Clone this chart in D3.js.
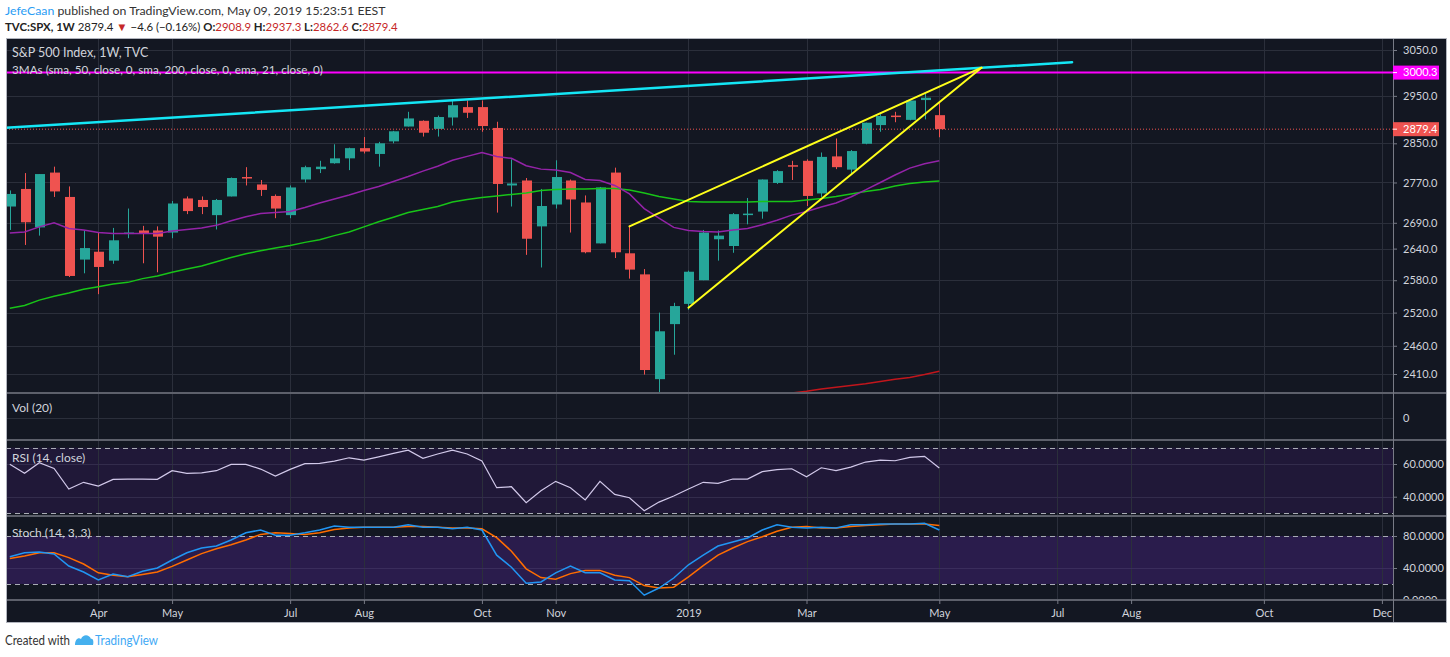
<!DOCTYPE html>
<html>
<head>
<meta charset="utf-8">
<script src="https://cdn.jsdelivr.net/npm/d3@7"></script>
<style>
  body { margin: 0; background: #ffffff; }
  svg { display: block; font-family: Lato, "Liberation Sans", sans-serif; }
</style>
</head>
<body>
<svg id="grafico" width="1450" height="657"></svg>
<script>
// weekly candles, first bar is the week of Feb 19 2018, last one the week of May 6 2019
var opens = [2722,2757,2681,2790,2741,2619,2634,2617,2670,2675,
  2675,2671,2738,2735,2705,2742,2781,2766,2743,2705,
  2776,2797,2809,2819,2840,2828,2854,2885,2897,2880,
  2904,2926,2926,2882,2764,2774,2683,2726,2774,2730,
  2650,2790,2631,2591,2401,2499,2536,2580,2658,2645,
  2707,2712,2769,2805,2814,2748,2823,2796,2849,2888,
  2908,2899,2941,2908.9]
var highs = [2754,2789,2787,2802,2762,2675,2672,2680,2718,2684,
  2683,2733,2742,2742,2737,2780,2801,2775,2746,2764,
  2804,2814,2848,2841,2863,2853,2876,2916,2898,2908,
  2941,2940,2940,2895,2817,2779,2757,2815,2776,2744,
  2761,2800,2685,2601,2520,2538,2598,2676,2675,2709,
  2739,2776,2795,2814,2817,2831,2860,2836,2893,2911,
  2916,2940,2954,2937.3]
var lows = [2676,2647,2665,2741,2586,2593,2554,2611,2660,2612,
  2595,2660,2707,2707,2677,2742,2764,2743,2699,2699,
  2770,2789,2808,2795,2829,2802,2850,2885,2864,2864,
  2887,2903,2874,2710,2722,2628,2604,2718,2671,2631,
  2650,2622,2583,2409,2347,2444,2525,2580,2617,2632,
  2687,2698,2767,2775,2723,2741,2797,2786,2848,2874,
  2894,2898,2900,2862.6]
var closes = [2747,2691,2787,2752,2588,2641,2605,2656,2671,2670,
  2663,2728,2713,2721,2735,2779,2779,2755,2718,2760,
  2801,2802,2819,2840,2833,2850,2875,2902,2872,2905,
  2930,2914,2886,2767,2768,2659,2723,2781,2736,2633,
  2760,2633,2600,2417,2486,2532,2596,2671,2665,2707,
  2708,2776,2793,2804,2743,2822,2801,2834,2893,2907,
  2905,2940,2946,2879.4]

// 3MAs study
var ema21 = [2670,2672,2682,2690,2679,2676,2671,2669,2669,2669,
  2669,2674,2677,2680,2685,2694,2702,2708,2710,2712,
  2720,2729,2737,2745,2754,2762,2772,2782,2793,2803,
  2815,2823,2831,2823,2819,2804,2797,2795,2790,2776,
  2774,2764,2747,2718,2699,2681,2675,2673,2672,2676,
  2679,2686,2695,2705,2712,2721,2729,2741,2755,2770,
  2785,2799,2808,2814]
var sma50 = [2528,2533,2543,2550,2556,2563,2568,2573,2576,2583,
  2588,2595,2601,2607,2615,2623,2630,2636,2641,2646,
  2652,2657,2665,2672,2682,2692,2701,2710,2716,2722,
  2731,2736,2740,2743,2746,2749,2754,2756,2757,2757,
  2758,2758,2755,2749,2742,2737,2732,2731,2731,2731,
  2731,2732,2732,2732,2735,2738,2742,2747,2752,2756,
  2763,2768,2771,2773]
// only the last 14 weeks, before that the sma 200 is under the pane
var sma200 = [2368,2371,2374,2377,2380,2384,2387,2390,2393,2397,2401,2404,2409,2415]

var rsi = [59.8,54.3,60.8,57.3,44.7,48.8,46.5,50.6,50.8,50.8,
  50.6,55.9,54.3,54.6,55.9,59.8,59.8,56.9,52.6,56.7,
  60.2,60.4,61.8,63.8,62.4,64.4,66.5,68.5,63.5,66.1,
  68.5,66.1,61.8,45.5,46.1,36.3,43.6,49.4,45.5,38.0,
  49.4,41.4,39.4,31.4,36.7,40.4,44.7,48.8,48.2,50.8,
  50.8,55.3,56.5,57.1,52.2,57.7,55.9,58.1,61.2,62.4,
  62.0,64.1,64.7,57.5]
var stochK = [54,59,60,57.5,42.5,35,25,32.5,29,36,
  40,50,59,65,67.5,75,84,87.5,81,81,
  84,87.5,92.5,91,91,91,91,94,91,91,
  89,91,87.5,56,41,21,22.5,34,42.5,34,
  34,25,24,6,15,27.5,44,56,67.5,72.5,
  77.5,87.5,94,91,90,91,90,94,94,95,
  95,95,96,87.5]
var stochD = [52,55,59,59,53,45,34,31,29,32,
  35,42,50,58,64,69,75,82,84,83,
  82,84,88,90,91,91,91,92,92,91,
  90,90,89,78,61,39,28,26,33,37,
  37,31,28,18,15,16,29,43,56,65,
  73,79,86,91,92,90,90,92,93,94,
  95,95,95,93]

var priceTicks = [3050, 2950, 2850, 2770, 2690, 2640, 2580, 2520, 2460, 2410]
var rsiTicks = [60, 40]
var stochTicks = [80, 40, 0]
var monthDates = ["2018-04-02","2018-05-07","2018-07-02","2018-08-06","2018-10-01","2018-11-05",
  "2019-01-07","2019-03-04","2019-05-06","2019-07-01","2019-08-05","2019-10-07","2019-12-02"]
var monthLabels = ["Apr","May","Jul","Aug","Oct","Nov","2019","Mar","May","Jul","Aug","Oct","Dec"]

// lines drawn by hand on the chart
var resistanceDates = ["2018-02-12", "2019-07-08"]
var resistancePrices = [2881, 3023]
var wedgeTopDates = ["2018-12-10", "2019-05-26"]
var wedgeTopPrices = [2683, 3011]
var wedgeBottomDates = ["2019-01-07", "2019-05-26"]
var wedgeBottomPrices = [2529, 3011]
var levelPrice = 3000.3

// layout
var left = 6, plotRight = 1393, right = 1447
var mainTop = 38, mainBottom = 393, volBottom = 440, rsiBottom = 516, stochBottom = 600, frameBottom = 623
var up = "#26a69a", down = "#ef5350", gridColor = "#2b2f3b", axisText = "#d1d4dc"

var svg = d3.select("#grafico")
var parse = d3.utcParse("%Y-%m-%d")
var weeks = d3.utcMonday.range(new Date("2018-02-19"), new Date("2019-05-07"))

var x = d3.scaleUtc().domain([weeks[0], weeks[weeks.length - 1]]).range([9.8, 939.3])
var y = d3.scaleLog().domain([2410, 3050]).range([374, 50])
var yRsi = d3.scaleLinear().domain([40, 60]).range([496.7, 464])
var yStoch = d3.scaleLinear().domain([0, 100]).range([600, 520])

// clip paths for the panes
var defs = svg.append("defs")
function clip(id, y0, y1) {
  defs.append("clipPath").attr("id", id)
    .append("rect").attr("x", left).attr("y", y0).attr("width", plotRight - left).attr("height", y1 - y0)
}
clip("clipMain", mainTop, mainBottom)
clip("clipRsi", volBottom, rsiBottom)
clip("clipStoch", rsiBottom, stochBottom)

// background
svg.append("rect").attr("x", left).attr("y", mainTop)
  .attr("width", right - left).attr("height", frameBottom - mainTop).attr("fill", "#131722")

// indicator bands
svg.append("rect").attr("x", left).attr("width", plotRight - left)
  .attr("y", yRsi(70)).attr("height", yRsi(30) - yRsi(70)).attr("fill", "#201838")
svg.append("rect").attr("x", left).attr("width", plotRight - left)
  .attr("y", yStoch(80)).attr("height", yStoch(20) - yStoch(80)).attr("fill", "#2a1c4c")

// grid
var grid = svg.append("g").attr("stroke", gridColor).attr("stroke-width", 1)
grid.selectAll(".vx").data(monthDates).enter().append("line")
  .attr("x1", function(d){ return Math.round(x(parse(d))) + 0.5 })
  .attr("x2", function(d){ return Math.round(x(parse(d))) + 0.5 })
  .attr("y1", mainTop).attr("y2", stochBottom)
grid.selectAll(".hy").data(priceTicks).enter().append("line")
  .attr("x1", left).attr("x2", plotRight)
  .attr("y1", function(d){ return Math.round(y(d)) + 0.5 })
  .attr("y2", function(d){ return Math.round(y(d)) + 0.5 })
grid.append("line").attr("x1", left).attr("x2", plotRight).attr("y1", 418.5).attr("y2", 418.5)
grid.selectAll(".hr").data(rsiTicks).enter().append("line")
  .attr("x1", left).attr("x2", plotRight)
  .attr("y1", function(d){ return Math.round(yRsi(d)) + 0.5 })
  .attr("y2", function(d){ return Math.round(yRsi(d)) + 0.5 })
  .attr("stroke", "#332c4c")
grid.append("line").attr("x1", left).attr("x2", plotRight)
  .attr("y1", Math.round(yStoch(40)) + 0.5).attr("y2", Math.round(yStoch(40)) + 0.5).attr("stroke", "#3a2d5c")

// dashed band limits
var dashes = svg.append("g").attr("stroke", "#a9acb5").attr("stroke-dasharray", "5,4")
;[yRsi(70), yRsi(30), yStoch(80), yStoch(20)].forEach(function(v){
  dashes.append("line").attr("x1", left).attr("x2", plotRight)
    .attr("y1", Math.round(v) + 0.5).attr("y2", Math.round(v) + 0.5)
})

// candles
var bars = weeks.map(function(d, i){ return {date: d, o: opens[i], h: highs[i], l: lows[i], c: closes[i]} })
var main = svg.append("g").attr("clip-path", "url(#clipMain)")
var candle = main.selectAll(".candle").data(bars).enter().append("g")
  .attr("fill", function(d){ return d.c >= d.o ? up : down })
  .attr("stroke", function(d){ return d.c >= d.o ? up : down })
candle.append("line")
  .attr("x1", function(d){ return Math.round(x(d.date)) + 0.5 })
  .attr("x2", function(d){ return Math.round(x(d.date)) + 0.5 })
  .attr("y1", function(d){ return y(d.h) })
  .attr("y2", function(d){ return y(d.l) })
candle.append("rect")
  .attr("stroke", "none")
  .attr("x", function(d){ return Math.round(x(d.date)) - 4 })
  .attr("width", 10)
  .attr("y", function(d){ return y(Math.max(d.o, d.c)) })
  .attr("height", function(d){ return Math.max(1.5, y(Math.min(d.o, d.c)) - y(Math.max(d.o, d.c))) })

// moving averages
var maLine = d3.line().x(function(d){ return x(d[0]) }).y(function(d){ return y(d[1]) })
main.append("path").datum(d3.zip(weeks, sma50)).attr("d", maLine)
  .attr("fill", "none").attr("stroke", "#18c418").attr("stroke-width", 1.5)
main.append("path").datum(d3.zip(weeks.slice(-sma200.length), sma200)).attr("d", maLine)
  .attr("fill", "none").attr("stroke", "#c2161c").attr("stroke-width", 1.5)
main.append("path").datum(d3.zip(weeks, ema21)).attr("d", maLine)
  .attr("fill", "none").attr("stroke", "#9423a8").attr("stroke-width", 1.5)

// last price and the 3000 level
main.append("line").attr("x1", left).attr("x2", plotRight)
  .attr("y1", y(closes[closes.length - 1])).attr("y2", y(closes[closes.length - 1]))
  .attr("stroke", down).attr("stroke-dasharray", "1,2")
main.append("line").attr("x1", left).attr("x2", plotRight)
  .attr("y1", y(levelPrice)).attr("y2", y(levelPrice))
  .attr("stroke", "#ff00ff").attr("stroke-width", 2)

// trend lines
function drawing(dates, prices, color, width) {
  main.append("path").datum(d3.zip(dates.map(parse), prices)).attr("d", maLine)
    .attr("fill", "none").attr("stroke", color).attr("stroke-width", width).attr("stroke-linecap", "round")
}
drawing(resistanceDates, resistancePrices, "#14e6f5", 2.5)
drawing(wedgeTopDates, wedgeTopPrices, "#ffff1a", 2)
drawing(wedgeBottomDates, wedgeBottomPrices, "#ffff1a", 2)

// rsi
var rsiLine = d3.line().x(function(d){ return x(d[0]) }).y(function(d){ return yRsi(d[1]) })
svg.append("g").attr("clip-path", "url(#clipRsi)")
  .append("path").datum(d3.zip(weeks, rsi)).attr("d", rsiLine)
  .attr("fill", "none").attr("stroke", "#d2c9ea").attr("stroke-width", 1.2)

// stochastic
var stochLine = d3.line().x(function(d){ return x(d[0]) }).y(function(d){ return yStoch(d[1]) })
var st = svg.append("g").attr("clip-path", "url(#clipStoch)")
st.append("path").datum(d3.zip(weeks, stochD)).attr("d", stochLine)
  .attr("fill", "none").attr("stroke", "#ff6d00").attr("stroke-width", 1.5)
st.append("path").datum(d3.zip(weeks, stochK)).attr("d", stochLine)
  .attr("fill", "none").attr("stroke", "#2196f3").attr("stroke-width", 1.5)

// pane separators and frame
var sep = svg.append("g").attr("stroke", "#5d606b").attr("stroke-width", 2)
;[mainBottom, volBottom, rsiBottom, stochBottom].forEach(function(v){
  sep.append("line").attr("x1", left).attr("x2", right).attr("y1", v).attr("y2", v)
})
svg.append("line").attr("x1", plotRight + 0.5).attr("x2", plotRight + 0.5)
  .attr("y1", mainTop).attr("y2", frameBottom).attr("stroke", "#787b86")
svg.append("rect").attr("x", left + 0.5).attr("y", mainTop + 0.5)
  .attr("width", right - left - 1).attr("height", frameBottom - mainTop - 1)
  .attr("fill", "none").attr("stroke", "#b2b5be")

// axes
function styleAxis(g) {
  g.attr("font-family", "Lato, 'Liberation Sans', sans-serif").attr("font-size", 11)
  g.select(".domain").remove()
  g.selectAll("line").attr("stroke", "#787b86")
  g.selectAll("text").attr("fill", axisText)
}
svg.append("g").attr("transform", "translate(" + plotRight + ",0)")
  .call(d3.axisRight(y).tickValues(priceTicks).tickFormat(d3.format(".1f")).tickSize(4).tickPadding(6))
  .call(styleAxis)
svg.append("g").attr("transform", "translate(" + plotRight + ",0)")
  .call(d3.axisRight(yRsi).tickValues(rsiTicks).tickFormat(d3.format(".4f")).tickSize(4).tickPadding(6))
  .call(styleAxis)
svg.append("g").attr("transform", "translate(" + plotRight + ",0)").attr("clip-path", "url(#clipStochAxis)")
  .call(d3.axisRight(yStoch).tickValues(stochTicks).tickFormat(d3.format(".4f")).tickSize(4).tickPadding(6))
  .call(styleAxis)
defs.append("clipPath").attr("id", "clipStochAxis")
  .append("rect").attr("x", 0).attr("y", rsiBottom).attr("width", 60).attr("height", stochBottom - rsiBottom - 1)
svg.append("g").attr("transform", "translate(0," + stochBottom + ")")
  .call(d3.axisBottom(x).tickValues(monthDates.map(parse))
    .tickFormat(function(d, i){ return monthLabels[i] }).tickSize(4).tickPadding(5))
  .call(styleAxis)
svg.append("text").attr("x", plotRight + 10).attr("y", 418).attr("dy", "0.32em")
  .attr("font-size", 11).attr("fill", axisText).text("0")

// price labels on the axis
function priceTag(value, color) {
  var g = svg.append("g").attr("transform", "translate(" + plotRight + "," + y(value) + ")")
  g.append("rect").attr("x", 0).attr("y", -7).attr("width", 46).attr("height", 14).attr("fill", color)
  g.append("line").attr("x1", 0).attr("x2", 4).attr("stroke", "#ffffff")
  g.append("text").attr("x", 10).attr("dy", "0.35em").attr("font-size", 11).attr("fill", "#ffffff")
    .text(d3.format(".1f")(value))
}
priceTag(levelPrice, "#ff00ff")
priceTag(closes[closes.length - 1], down)

// legends inside the panes
var legend = svg.append("g").attr("fill", axisText).attr("font-size", 12)
legend.append("text").attr("x", 12).attr("y", 57).attr("font-size", 12.5).text("S&P 500 Index, 1W, TVC")
legend.append("text").attr("x", 12).attr("y", 74).attr("textLength", 311).attr("lengthAdjust", "spacingAndGlyphs")
  .text("3MAs (sma, 50, close, 0, sma, 200, close, 0, ema, 21, close, 0)")
legend.append("text").attr("x", 12).attr("y", 412).text("Vol (20)")
legend.append("text").attr("x", 12).attr("y", 462).text("RSI (14, close)")
legend.append("text").attr("x", 12).attr("y", 537).text("Stoch (14, 3, 3)")

// header
var last = opens.length - 1
var fmt = d3.format(".1f")
var h1 = svg.append("text").attr("x", 5).attr("y", 15).attr("font-size", 12.3).attr("fill", "#333333")
h1.append("tspan").attr("fill", "#2a9df4").text("JefeCaan")
h1.append("tspan").text(" published on TradingView.com, May 09, 2019 15:23:51 EEST")
var h2 = svg.append("text").attr("x", 5).attr("y", 31).attr("font-size", 11.4).attr("fill", "#222222")
h2.append("tspan").attr("font-weight", "bold").text("TVC:SPX, 1W")
h2.append("tspan").text("  " + fmt(closes[last]) + " ")
h2.append("tspan").attr("fill", "#c62828").text("▼")
h2.append("tspan").text(" \u22124.6 (\u22120.16%) ")
;[["O:", opens[last]], ["H:", highs[last]], ["L:", lows[last]], ["C:", closes[last]]].forEach(function(p, i){
  h2.append("tspan").attr("font-weight", "bold").text((i ? " " : "") + p[0])
  h2.append("tspan").attr("fill", "#c62828").text(fmt(p[1]))
})

// footer
var foot = svg.append("g").attr("transform", "translate(5,645)")
foot.append("text").attr("font-size", 12.5).attr("fill", "#333333")
  .attr("textLength", 65).attr("lengthAdjust", "spacingAndGlyphs").text("Created with")
foot.append("path").attr("d", "M70,0 C70,-5 73,-8 76,-6 C78,-11 84,-11 86,-6 C88,-7 89,-3 88,0 Z").attr("fill", "#45b0ee")
foot.append("text").attr("x", 90).attr("font-size", 12.5).attr("fill", "#3fa9f5")
  .attr("textLength", 63).attr("lengthAdjust", "spacingAndGlyphs").text("TradingView")
</script>
</body>
</html>
